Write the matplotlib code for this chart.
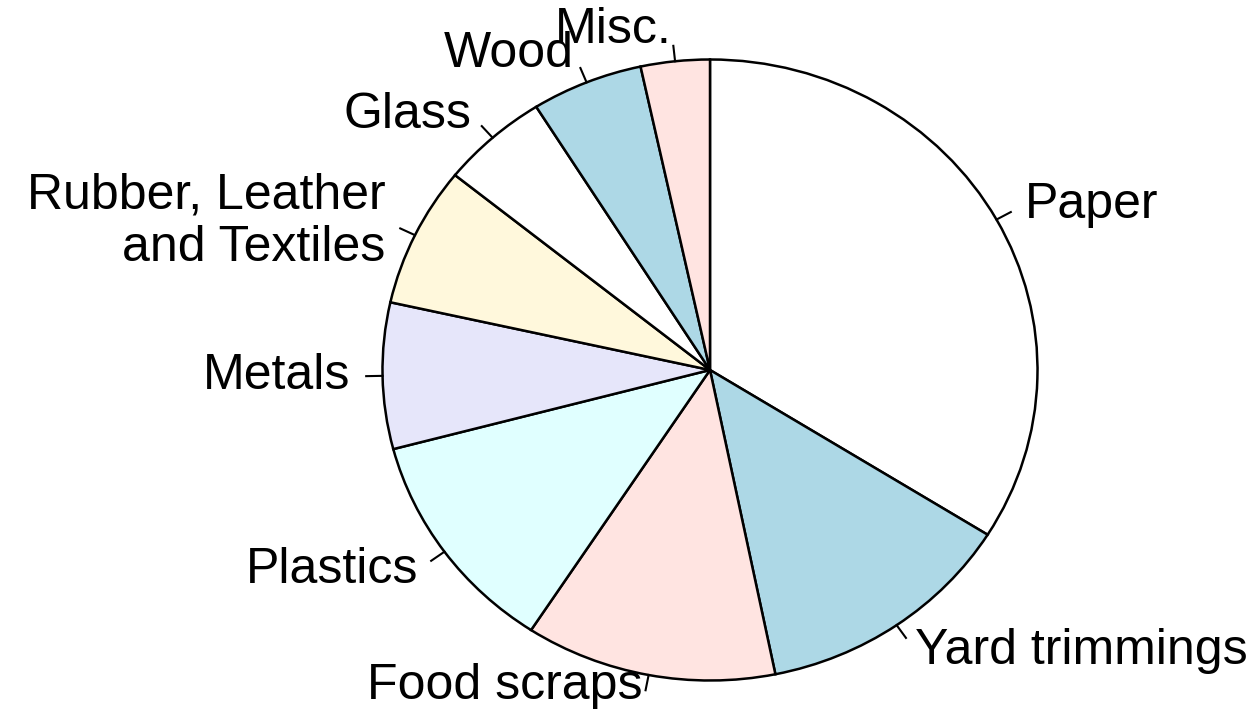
import numpy as np
import matplotlib
matplotlib.use("Agg")
import matplotlib.pyplot as plt

categories = ["Paper", "Yard trimmings", "Food scraps", "Plastics", "Metals",
              "Rubber, Leather\nand Textiles", "Glass", "Wood", "Misc."]
values = [33.9, 12.9, 12.4, 11.7, 7.6, 7.3, 5.3, 5.5, 3.4]
colors = ["white", "lightblue", "mistyrose", "lightcyan", "lavender",
          "cornsilk", "white", "lightblue", "mistyrose"]

W, H = 1256, 724
fig = plt.figure(figsize=(W / 100, H / 100), dpi=100)
ax = fig.add_axes([0, 0, 1, 1])

wedges, _ = ax.pie(values, colors=colors, startangle=90, counterclock=False,
                   radius=1.0,
                   wedgeprops=dict(edgecolor="black", linewidth=1.8))

# pixel geometry of the (slightly elliptical) pie
cx, cy = 710, 370
rx, ry = 327.5, 310.5
ax.set_aspect("auto")
ax.set_xlim(-cx / rx, (W - cx) / rx)
ax.set_ylim(-(H - cy) / ry, cy / ry)
ax.axis("off")

# vertical nudges (pixels, upward) so labels sit where the reference shows them
nudge_px = {"Food scraps": 20}

for w, lab in zip(wedges, categories):
    ang = np.deg2rad((w.theta1 + w.theta2) / 2.0)
    x, y = np.cos(ang), np.sin(ang)
    ax.plot([x, 1.05 * x], [y, 1.05 * y], color="black", linewidth=1.5)
    ha = "left" if x > 0 else "right"
    ty = 1.1 * y + nudge_px.get(lab, 0) / ry
    ax.text(1.1 * x, ty, lab, ha=ha, va="center", multialignment=ha,
            fontsize=36, family=["Liberation Sans", "DejaVu Sans"],
            linespacing=1.17)

fig.savefig("out.png", dpi=100)
